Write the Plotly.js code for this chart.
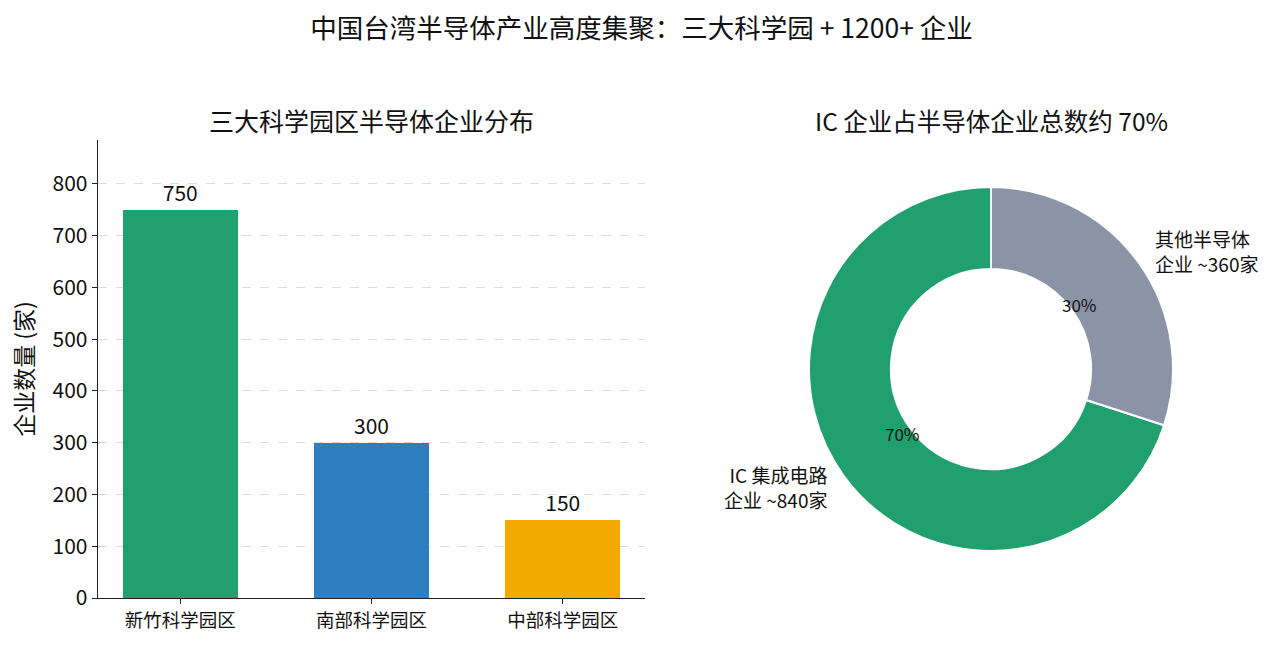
<!DOCTYPE html>
<html>
<head>
<meta charset="utf-8">
<script src="https://cdn.plot.ly/plotly-3.0.1.min.js"></script>
<style>
html,body{margin:0;padding:0;background:#fff;}
#chart{width:1283px;height:645px;}
</style>
</head>
<body>
<div id="chart"></div>
<script>
// ---- data ----
const mainTitle = '中国台湾半导体产业高度集聚：三大科学园 + 1200+ 企业';
const barTitle = '三大科学园区半导体企业分布';
const pieTitle = 'IC 企业占半导体企业总数约 70%';
const yTitle = '企业数量 (家)';
const categories = ['新竹科学园区', '南部科学园区', '中部科学园区'];
const counts = [750, 300, 150];
const barColors = ['#21a06f', '#2f7ec1', '#f2aa00'];
const yTicks = [0, 100, 200, 300, 400, 500, 600, 700, 800];
const pieLabels = ['IC 集成电路<br>企业 ~840家', '其他半导体<br>企业 ~360家'];
const pieValues = [70, 30];
const pieColors = ['#21a06f', '#8b94a7'];

// ---- layout geometry ----
const W = 1283, H = 645;
const FONT = '"Noto Sans CJK SC", "Noto Sans", sans-serif';
const barDomX = [98 / W, 645 / W];
const barDomY = [(H - 598) / H, (H - 140) / H];
const pieCx = 991, pieCy = 369, pieR = 182;
const pieDomX = [(pieCx - pieR) / W, (pieCx + pieR) / W];
const pieDomY = [(H - pieCy - pieR) / H, (H - pieCy + pieR) / H];
const total = pieValues.reduce((a, b) => a + b, 0);

const barTrace = {
  type: 'bar',
  x: categories,
  y: counts,
  width: 0.6,
  marker: {color: barColors},
  text: counts.map(String),
  textposition: 'outside',
  textfont: {family: FONT, size: 21, color: '#111'},
  cliponaxis: false,
  xaxis: 'x', yaxis: 'y',
  hoverinfo: 'x+y'
};

// matplotlib-style: first slice starts at 12 o'clock and runs counterclockwise
const pieTrace = {
  type: 'pie',
  labels: pieLabels,
  values: pieValues,
  hole: 0.55,
  sort: false,
  direction: 'counterclockwise',
  rotation: 360 * (1 - pieValues[0] / total),
  marker: {colors: pieColors, line: {color: '#ffffff', width: 2}},
  textinfo: 'none',
  domain: {x: pieDomX, y: pieDomY},
  showlegend: false
};

// annotations for pie labels, positioned from values like matplotlib
const annotations = [];
let cum = 0;
const cxP = pieCx / W, cyP = (H - pieCy) / H;
pieValues.forEach((v, i) => {
  const mid = (cum + v / 2) / total;
  cum += v;
  const ang = (90 + 360 * mid) * Math.PI / 180;
  const c = Math.cos(ang), s = Math.sin(ang);
  annotations.push({
    xref: 'paper', yref: 'paper',
    x: cxP + 1.1 * pieR * c / W, y: cyP + 1.1 * pieR * s / H,
    xanchor: c > 0 ? 'left' : 'right', yanchor: 'middle',
    text: pieLabels[i], showarrow: false, align: c > 0 ? 'left' : 'right',
    font: {family: FONT, size: 19, color: '#111'}
  });
  annotations.push({
    xref: 'paper', yref: 'paper',
    x: cxP + 0.6 * pieR * c / W, y: cyP + 0.6 * pieR * s / H,
    xanchor: 'center', yanchor: 'middle',
    text: Math.round(100 * v / total) + '%', showarrow: false,
    font: {family: FONT, size: 17, color: '#111'}
  });
});
annotations.push({
  xref: 'paper', yref: 'paper', x: (98 + 645) / 2 / W, y: (H - 120) / H,
  xanchor: 'center', yanchor: 'middle', showarrow: false,
  text: barTitle, font: {family: FONT, size: 25, color: '#111'}
});
annotations.push({
  xref: 'paper', yref: 'paper', x: pieCx / W, y: (H - 120) / H,
  xanchor: 'center', yanchor: 'middle', showarrow: false,
  text: pieTitle, font: {family: FONT, size: 24.5, color: '#111'}
});

const layout = {
  width: W, height: H,
  margin: {l: 0, r: 0, t: 0, b: 0},
  paper_bgcolor: '#fff', plot_bgcolor: '#fff',
  font: {family: FONT, color: '#111'},
  title: {text: mainTitle, x: 0.5, xanchor: 'center', y: 1 - 29 / H, yanchor: 'middle', yref: 'container',
          font: {family: FONT, size: 26.5, color: '#111'}},
  showlegend: false,
  bargap: 0,
  xaxis: {
    domain: barDomX, range: [-0.43, 2.43], type: 'category',
    showline: true, linecolor: '#222', linewidth: 1.3,
    ticks: 'outside', ticklen: 5, tickcolor: '#222',
    tickfont: {family: FONT, size: 18.5, color: '#111'},
    showgrid: false, zeroline: false, fixedrange: true
  },
  yaxis: {
    domain: barDomY, range: [0, 885],
    tickvals: yTicks, ticktext: yTicks.map(String),
    showline: true, linecolor: '#222', linewidth: 1.3,
    ticks: 'outside', ticklen: 5, tickcolor: '#222',
    tickfont: {family: FONT, size: 21, color: '#111'},
    showgrid: true, gridcolor: '#dcdcdc', griddash: 'dash', gridwidth: 1,
    zeroline: false, fixedrange: true,
    title: {text: yTitle, font: {family: FONT, size: 23, color: '#111'}, standoff: 12}
  },
  annotations: annotations
};

Plotly.newPlot('chart', [barTrace, pieTrace], layout, {displayModeBar: false, staticPlot: true});
</script>
</body>
</html>
